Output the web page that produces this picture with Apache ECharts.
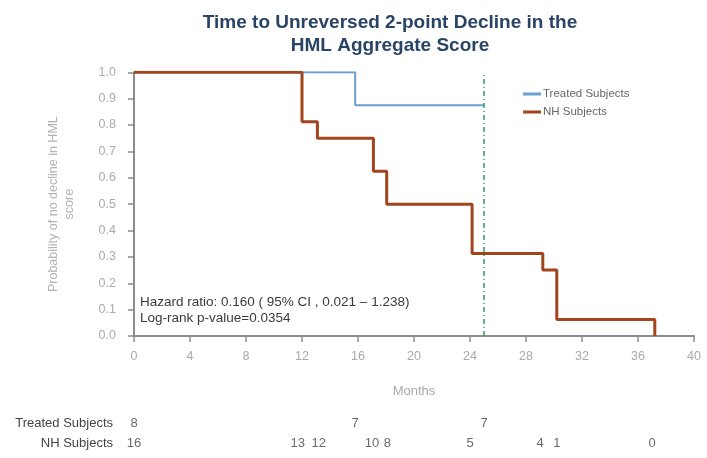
<!DOCTYPE html>
<html><head><meta charset="utf-8">
<script src="https://cdn.jsdelivr.net/npm/echarts@6/dist/echarts.min.js"></script>
<style>html,body{margin:0;padding:0;background:#fff}#c{width:707px;height:458px}</style>
</head><body><div id="c"></div>
<script>
// Kaplan-Meier step data (months, probability)
const treatedTimes = [0, 15.8, 25];
const treatedSurv  = [1, 0.875, 0.875];
const nhTimes = [0, 12, 13.1, 17.1, 18.05, 24.15, 29.2, 30.2, 37.2];
const nhSurv  = [1, 0.8125, 0.75, 0.625, 0.5, 0.3125, 0.25, 0.0625, 0];
const cutoffMonth = 25;
// numbers at risk
const riskRows = ['Treated Subjects', 'NH Subjects'];
const treatedRiskTimes = [0, 15.8, 25];
const treatedRisk = [8, 7, 7];
const nhRiskTimes = [0, 11.7, 13.2, 17, 18.1, 24, 29, 30.2, 37];
const nhRisk = [16, 13, 12, 10, 8, 5, 4, 1, 0];
const xTicks = [0, 4, 8, 12, 16, 20, 24, 28, 32, 36, 40];

const zip = (a, b) => a.map((v, i) => [v, b[i]]);
const chart = echarts.init(document.getElementById('c'));
const axisGray = '#8c8c8c';
const FF = 'Liberation Sans, Arial';
chart.setOption({
  animation: false,
  title: {
    text: 'Time to Unreversed 2-point Decline in the\nHML Aggregate Score',
    left: 385, top: 6, textAlign: 'center',
    textStyle: {fontFamily: FF, fontSize: 19, fontWeight: 'bold', color: '#2a4466', lineHeight: 23}
  },
  legend: {
    orient: 'vertical', left: 518, top: 83, itemGap: 6,
    itemWidth: 18, itemHeight: 3, icon: 'rect',
    textStyle: {fontFamily: FF, fontSize: 11.5, color: '#666', padding: [0, 0, 0, -3]},
    data: ['Treated Subjects', 'NH Subjects']
  },
  grid: [
    {left: 134, right: 13, top: 72.3, bottom: 122},
    {left: 134, right: 13, top: 413, height: 40}
  ],
  xAxis: [
    {type: 'value', gridIndex: 0, min: 0, max: 40, interval: 4, offset: 4,
     name: 'Months', nameLocation: 'middle', nameGap: 45,
     nameTextStyle: {fontFamily: FF, fontSize: 13, color: '#aaa'},
     axisLine: {show: true, lineStyle: {color: axisGray, width: 2}},
     axisTick: {show: true, length: 6, lineStyle: {color: axisGray, width: 1.5}},
     axisLabel: {margin: 10, fontFamily: FF, fontSize: 12.5, color: '#aaa',
       formatter: v => xTicks.includes(v) ? String(v) : ''},
     splitLine: {show: false}},
    {type: 'value', gridIndex: 1, min: 0, max: 40, show: false}
  ],
  yAxis: [
    {type: 'value', gridIndex: 0, min: 0, max: 1, interval: 0.1, offset: 6,
     name: 'Probability of no decline in HML\nscore', nameLocation: 'middle', nameGap: 50, nameRotate: 90,
     nameTextStyle: {fontFamily: FF, fontSize: 12.5, color: '#b3b3b3', lineHeight: 16},
     axisLine: {show: true, lineStyle: {color: axisGray, width: 2}},
     axisTick: {show: true, length: 6, lineStyle: {color: axisGray, width: 1.5}},
     axisLabel: {margin: 12, fontFamily: FF, fontSize: 12.5, color: '#aaa',
       formatter: v => v.toFixed(1)},
     splitLine: {show: false}},
    {type: 'category', gridIndex: 1, data: riskRows, inverse: true,
     axisLine: {show: false}, axisTick: {show: false}, splitLine: {show: false},
     axisLabel: {margin: 21, fontFamily: FF, fontSize: 13, color: '#444'}}
  ],
  graphic: [
    {type: 'text', left: 140, top: 294,
     style: {text: 'Hazard ratio: 0.160 ( 95% CI , 0.021 – 1.238)\nLog-rank p-value=0.0354',
       font: '13.5px Liberation Sans, Arial', fill: '#3a3a3a', lineHeight: 16}}
  ],
  series: [
    {name: 'Treated Subjects', type: 'line', step: 'end', xAxisIndex: 0, yAxisIndex: 0,
     data: zip(treatedTimes, treatedSurv), showSymbol: false, symbol: 'none',
     lineStyle: {color: '#6a9fd2', width: 2}, itemStyle: {color: '#6a9fd2'},
     markLine: {silent: true, symbol: 'none', label: {show: false},
       lineStyle: {color: '#2f9e58', width: 1.5, type: [5, 3, 1, 3]},
       data: [{xAxis: cutoffMonth}]}},
    {name: 'NH Subjects', type: 'line', step: 'end', xAxisIndex: 0, yAxisIndex: 0,
     data: zip(nhTimes, nhSurv), showSymbol: false, symbol: 'none',
     lineStyle: {color: '#a0451c', width: 3}, itemStyle: {color: '#a0451c'}},
    {type: 'scatter', xAxisIndex: 1, yAxisIndex: 1, symbolSize: 0, silent: true,
     data: treatedRiskTimes.map((t, i) => [t, riskRows[0], treatedRisk[i]]),
     label: {show: true, position: 'inside', formatter: p => p.value[2],
       fontFamily: FF, fontSize: 13, color: '#444'}},
    {type: 'scatter', xAxisIndex: 1, yAxisIndex: 1, symbolSize: 0, silent: true,
     data: nhRiskTimes.map((t, i) => [t, riskRows[1], nhRisk[i]]),
     label: {show: true, position: 'inside', formatter: p => p.value[2],
       fontFamily: FF, fontSize: 13, color: '#444'}}
  ]
});
</script></body></html>
